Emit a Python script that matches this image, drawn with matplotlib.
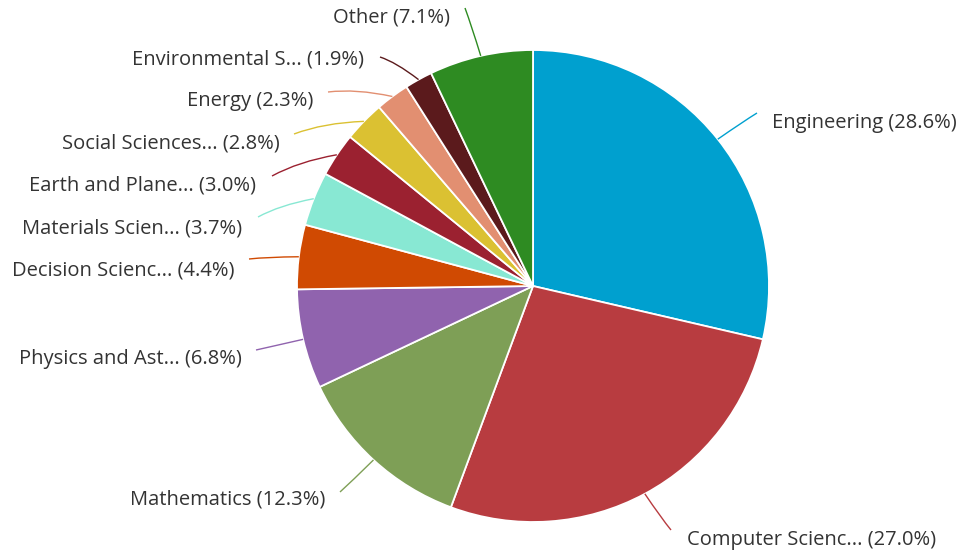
import matplotlib
matplotlib.use("Agg")
import matplotlib.pyplot as plt
import numpy as np
from matplotlib.path import Path
from matplotlib.patches import PathPatch

labels = ["Engineering", "Computer Scienc...", "Mathematics", "Physics and Ast...",
          "Decision Scienc...", "Materials Scien...", "Earth and Plane...",
          "Social Sciences...", "Energy", "Environmental S...", "Other"]
values = [28.6, 27.0, 12.3, 6.8, 4.4, 3.7, 3.0, 2.8, 2.3, 1.9, 7.1]
colors = ["#00a0cf", "#b83c40", "#7e9f56", "#9063ae", "#d04a02", "#88e8d3",
          "#9b2130", "#dbc132", "#e28f71", "#5b1a1c", "#2e8b22"]

# layout (pixels): label anchor and connector end
W, H = 979, 558
CX, CY, R = 533, 286, 236
label_xy = [(772, 123), (687, 540), (325, 500), (242, 359), (235, 270), (242, 228),
            (256, 185), (280, 143), (313, 101), (364, 59), (450, 18)]
line_end = [(757, 113), (671, 530), (340, 492), (256, 350), (249, 259), (258, 217),
            (272, 176), (294, 134), (328, 92), (380, 57), (465, 8)]
align = ["left", "left", "right", "right", "right", "right", "right", "right",
         "right", "right", "right"]

def px(p):
    return ((p[0] - CX) / R, (CY - p[1]) / R)

fig = plt.figure(figsize=(W / 100, H / 100), dpi=100)
ax = fig.add_axes([0, 0, 1, 1])

wedges, _ = ax.pie(values, colors=colors, startangle=90, counterclock=False,
                   radius=1, center=(0, 0),
                   wedgeprops=dict(edgecolor="white", linewidth=1.3))
ax.set_xlim(-CX / R, (W - CX) / R)
ax.set_ylim(-(H - CY) / R, CY / R)
ax.set_aspect("equal")
ax.axis("off")

total = sum(values)
cum = 0
for i, v in enumerate(values):
    mid = (cum + v / 2) / total * 2 * np.pi
    cum += v
    sx, sy = np.sin(mid), np.cos(mid)
    ex, ey = px(line_end[i])
    cx_ = 0.5 * (sx + ex) + 0.03 * sx
    cy_ = 0.5 * (sy + ey) + 0.03 * sy
    path = Path([(sx, sy), (cx_, cy_), (ex, ey)], [Path.MOVETO, Path.CURVE3, Path.CURVE3])
    ax.add_patch(PathPatch(path, facecolor="none", edgecolor=colors[i], linewidth=1.0))
    lx, ly = px(label_xy[i])
    ax.text(lx, ly, f"{labels[i]} ({v:.1f}%)", ha=align[i], va="center",
            fontsize=14.5, color="#333333", family=["Open Sans", "DejaVu Sans"])

fig.savefig("out.png", dpi=100, facecolor="white")
